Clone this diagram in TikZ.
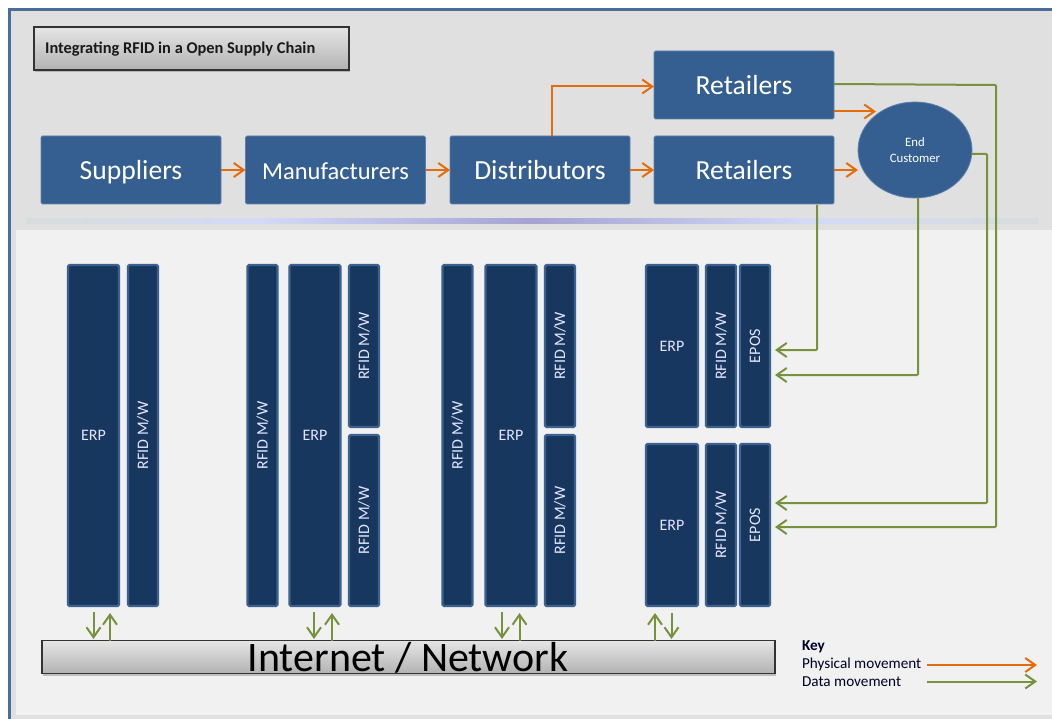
\documentclass[tikz,border=0pt]{standalone}
\usepackage{fontspec}
\setmainfont{Carlito}
\usetikzlibrary{arrows.meta,shadows,calc,shapes.geometric}
\definecolor{panelgray}{HTML}{E0E0E0}
\definecolor{panellight}{HTML}{F1F1F1}
\definecolor{frameblue}{HTML}{4A6E9C}
\definecolor{boxblue}{HTML}{365F91}
\definecolor{boxedge}{HTML}{5F80A8}
\definecolor{coldark}{HTML}{17375E}
\definecolor{coledge}{HTML}{3A618F}
\definecolor{orangeline}{HTML}{E46C0A}
\definecolor{greenline}{HTML}{76923C}
\definecolor{barend}{HTML}{D8DCDC}
\definecolor{barlight}{HTML}{D2DAF6}
\definecolor{barmid}{HTML}{A5A2D2}
\newcommand{\fs}[1]{\fontsize{#1}{#1}\selectfont}
\tikzset{
  x=1pt,y=-1pt,
  flowbox/.style={draw=boxedge,line width=0.8pt,fill=boxblue,rounded corners=1.5pt,text=white,anchor=north west,inner sep=0pt,outer sep=0pt,font=\fs{27.6},text height=25pt,text depth=6pt,minimum width=180pt,minimum height=68pt},
  colbox/.style={draw=coledge,line width=2.4pt,fill=coldark,rounded corners=1.5pt,text=white!90!blue,anchor=north west,inner sep=0pt,outer sep=0pt,font=\fs{16}},
  greybar/.style={draw=black!80,line width=1.1pt,top color=black!10,bottom color=black!30,anchor=north west,inner sep=0pt,outer sep=0pt,drop shadow={shadow xshift=1pt,shadow yshift=-2pt,opacity=.45}},
  keytext/.style={anchor=west,inner sep=0pt,outer sep=0pt,text=black!85!blue,font=\fs{15.2}},
  phys/.style={draw=orangeline,line width=2pt,-{Straight Barb[length=10pt,width=14pt,line width=2pt]}},
  dataflow/.style={draw=greenline,line width=2pt,-{Straight Barb[length=10pt,width=14pt,line width=2pt]}},
}
\newcommand{\rtext}[1]{\rotatebox{90}{#1}}
\begin{document}
\begin{tikzpicture}
\useasboundingbox (0,0) rectangle (1052,719);
% frame and panels
\fill[white] (0,0) rectangle (1052,719);
\fill[panelgray] (9,9) rectangle (1052,719);
\fill[panellight] (16,230) rectangle (1052,715);
\draw[frameblue,line width=2.6pt] (9.5,719) -- (9.5,9.5) -- (1052,9.5);
% separator
\shade[left color=barend,right color=barlight] (26,219) rectangle (261,224);
\shade[left color=barlight,right color=barmid] (260,219) rectangle (533,224);
\shade[left color=barmid,right color=barlight] (532,219) rectangle (805,224);
\shade[left color=barlight,right color=barend] (804,219) rectangle (1038,224);
% title
\node[greybar,minimum width=315pt,minimum height=43pt] (title) at (34,27) {};
\node[anchor=west,inner sep=0pt,font=\fs{16.4}\bfseries,text=black!90] (titletext) at (45,49) {Integrating RFID in a Open Supply Chain};
% supply chain
\node[flowbox] (sup) at (41,136) {Suppliers};
\node[flowbox,font=\fs{24.5}] (man) at (245.5,136) {Manufacturers};
\node[flowbox] (dis) at (450,136) {Distributors};
\node[flowbox] (retb) at (654,136) {Retailers};
\node[flowbox] (rett) at (654,51) {Retailers};
\node[ellipse,draw=boxedge,line width=0.8pt,fill=boxblue,text=white,minimum width=114pt,minimum height=96pt,inner sep=0pt,outer sep=0pt,align=center,font=\fs{12.8}] (cust) at (915,150) {End\\[3.4pt]Customer};
% columns group 1
\node[colbox,minimum width=51pt,minimum height=341pt] (a1) at (68,265) {ERP};
\node[colbox,minimum width=30pt,minimum height=341pt] (a2) at (128,265) {\rtext{RFID M/W}};
% group 2
\node[colbox,minimum width=30pt,minimum height=341pt] (b1) at (247.5,265) {\rtext{RFID M/W}};
\node[colbox,minimum width=51pt,minimum height=341pt] (b2) at (289.5,265) {ERP};
\node[colbox,minimum width=30pt,minimum height=162pt] (b3) at (349,265) {\rtext{RFID M/W}};
\node[colbox,minimum width=30pt,minimum height=171pt] (b4) at (349,435) {\rtext{RFID M/W}};
% group 3
\node[colbox,minimum width=30pt,minimum height=341pt] (c1) at (442.5,265) {\rtext{RFID M/W}};
\node[colbox,minimum width=51pt,minimum height=341pt] (c2) at (485.5,265) {ERP};
\node[colbox,minimum width=30pt,minimum height=162pt] (c3) at (545,265) {\rtext{RFID M/W}};
\node[colbox,minimum width=30pt,minimum height=171pt] (c4) at (545,435) {\rtext{RFID M/W}};
% group 4
\node[colbox,minimum width=52pt,minimum height=162pt] (d1) at (646,265) {ERP};
\node[colbox,minimum width=30pt,minimum height=162pt] (d2) at (706,265) {\rtext{RFID M/W}};
\node[colbox,minimum width=30pt,minimum height=162pt] (d3) at (740,265) {\rtext{EPOS}};
\node[colbox,minimum width=52pt,minimum height=162pt] (e1) at (646,444) {ERP};
\node[colbox,minimum width=30pt,minimum height=162pt] (e2) at (706,444) {\rtext{RFID M/W}};
\node[colbox,minimum width=30pt,minimum height=162pt] (e3) at (740,444) {\rtext{EPOS}};
% network bar
\node[greybar,minimum width=733pt,minimum height=33pt] (net) at (42,640.5) {};
\node[anchor=base,inner sep=0pt,text=black,font=\fs{42}] (nettext) at (408,671) {Internet / Network};
% physical flows
\draw[phys] (sup.east) -- (man.west);
\draw[phys] (man.east) -- (dis.west);
\draw[phys] (dis.east) -- (retb.west);
\coordinate (retin) at ([yshift=-1.5pt]rett.west);
\draw[phys] ([xshift=12pt]dis.north) -- ([xshift=12pt]dis.north |- retin) -- (retin);
\draw[phys] (retb.east) -- (cust.west |- retb.east);
\draw[phys] ([yshift=-26.5pt]rett.east) -- ++(42,0);
% data flows
\coordinate (dt) at (775,527);
\coordinate (dc) at (775,503);
\coordinate (du) at (775,375);
\coordinate (dr) at (775,350);
\draw[dataflow,rounded corners=1pt] ([yshift=1pt]rett.east) -- (996,85) -- (996,527) -- (dt);
\draw[dataflow,rounded corners=1pt] ([yshift=-4pt]cust.east) -- (987,154) -- (987,503) -- (dc);
\draw[dataflow,rounded corners=1pt] ([xshift=3pt]cust.south) -- (918,375) -- (du);
\draw[dataflow,rounded corners=1pt] (817,205) -- (817,350) -- (dr);
% links to the network
\coordinate (n1d) at (93.5,639);  \coordinate (n1u) at (110,613);
\coordinate (n2d) at (314,639);   \coordinate (n2u) at (332,613);
\coordinate (n3d) at (502,639);   \coordinate (n3u) at (519.5,613);
\coordinate (n4u) at (655,613);   \coordinate (n4d) at (671.5,639);
\draw[dataflow] (n1d |- a1.south) ++(0,6) -- (n1d);
\draw[dataflow] (n1u |- net.north) -- (n1u);
\draw[dataflow] (n2d |- b2.south) ++(0,6) -- (n2d);
\draw[dataflow] (n2u |- net.north) -- (n2u);
\draw[dataflow] (n3d |- c2.south) ++(0,6) -- (n3d);
\draw[dataflow] (n3u |- net.north) -- (n3u);
\draw[dataflow] (n4u |- net.north) -- (n4u);
\draw[dataflow] (n4d |- e1.south) ++(0,7) -- (n4d);
% key
\node[keytext,font=\fs{15.2}\bfseries] (keyt) at (802,647) {Key};
\node[keytext] (keyp) at (802,664.5) {Physical movement};
\node[keytext] (keyd) at (802,682) {Data movement};
\coordinate (kpe) at (1037,665);
\coordinate (kde) at (1037,681.5);
\draw[phys] (927,665) -- (kpe);
\draw[dataflow] (927,681.5) -- (kde);
\end{tikzpicture}
\end{document}
